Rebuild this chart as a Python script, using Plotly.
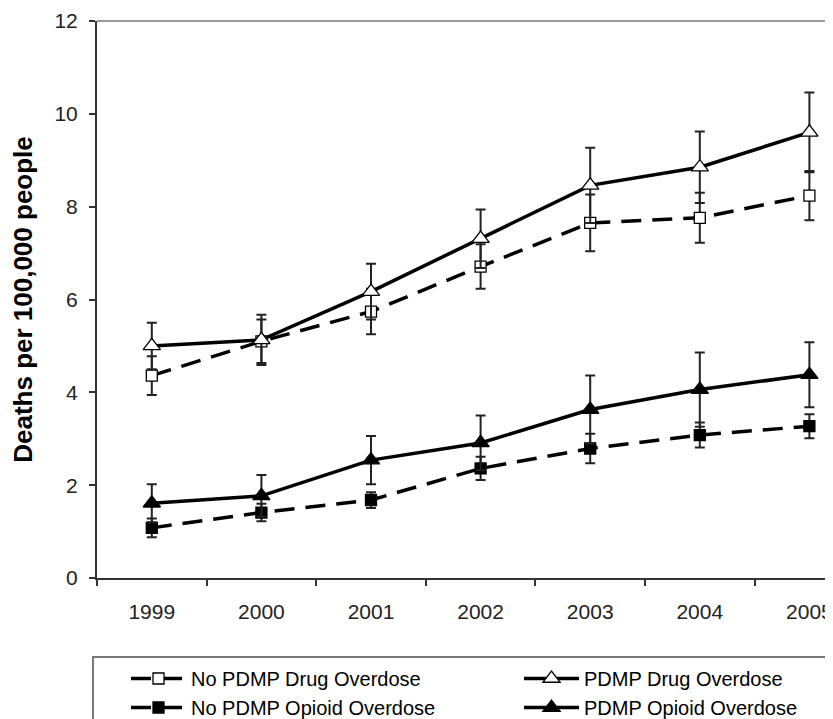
import plotly.graph_objects as go

years = ["1999", "2000", "2001", "2002", "2003", "2004", "2005"]

no_pdmp_drug = [4.36, 5.10, 5.74, 6.71, 7.65, 7.76, 8.24]
no_pdmp_drug_err = [0.42, 0.47, 0.49, 0.48, 0.61, 0.54, 0.53]

pdmp_drug = [5.00, 5.13, 6.17, 7.31, 8.46, 8.85, 9.60]
pdmp_drug_err = [0.50, 0.54, 0.60, 0.63, 0.81, 0.77, 0.86]

no_pdmp_opioid = [1.08, 1.41, 1.68, 2.36, 2.79, 3.08, 3.27]
no_pdmp_opioid_err = [0.20, 0.19, 0.17, 0.25, 0.32, 0.27, 0.26]

pdmp_opioid = [1.61, 1.77, 2.54, 2.91, 3.63, 4.06, 4.38]
pdmp_opioid_err = [0.41, 0.45, 0.52, 0.59, 0.73, 0.80, 0.70]

series = [
    ("No PDMP Drug Overdose", no_pdmp_drug, no_pdmp_drug_err, "20px,11px", "square", "white", 11, "legend"),
    ("PDMP Drug Overdose", pdmp_drug, pdmp_drug_err, "solid", "triangle-up", "white", 15, "legend2"),
    ("No PDMP Opioid Overdose", no_pdmp_opioid, no_pdmp_opioid_err, "20px,11px", "square", "black", 11, "legend"),
    ("PDMP Opioid Overdose", pdmp_opioid, pdmp_opioid_err, "solid", "triangle-up", "black", 15, "legend2"),
]

fig = go.Figure()
for name, vals, errs, dash, sym, fill, size, leg in series:
    fig.add_trace(go.Scatter(
        x=years, y=vals, name=name, mode="lines+markers", legend=leg,
        line=dict(color="black", width=3.5, dash=dash),
        marker=dict(symbol=sym, size=size, color=fill, line=dict(color="black", width=1.3)),
        error_y=dict(type="data", array=errs, visible=True, color="#222222", thickness=2, width=5),
        cliponaxis=False,
    ))

# page body adds an 8px offset; figure sized to fill the remaining window
W, H = 825, 711
L, R, T, B = 89, 0, 13, 141
pw, ph = W - L - R, H - T - B

def px_x(p):
    return (p - L) / pw

def px_y(p):
    return (H - B - p) / ph

leg_common = dict(
    orientation="v", yanchor="top", xanchor="left", itemwidth=55,
    font=dict(size=20, color="black"), bgcolor="rgba(0,0,0,0)",
    traceorder="normal", tracegroupgap=0,
)

fig.update_layout(
    width=W, height=H,
    margin=dict(l=L, r=R, t=T, b=B, autoexpand=False),
    paper_bgcolor="white", plot_bgcolor="white",
    font=dict(family="Liberation Sans, Arial, sans-serif", color="#222222"),
    showlegend=True,
    legend=dict(x=px_x(118), y=px_y(651), **leg_common),
    legend2=dict(x=px_x(511), y=px_y(651), **leg_common),
    shapes=[
        dict(type="rect", xref="paper", yref="paper",
             x0=px_x(85), x1=px_x(823), y0=px_y(740), y1=px_y(649),
             line=dict(color="#777777", width=2), fillcolor="rgba(0,0,0,0)", layer="above"),
        dict(type="line", xref="paper", yref="paper",
             x0=0, x1=1, y0=1, y1=1, line=dict(color="#999999", width=2)),
    ],
)

fig.update_xaxes(
    type="category", range=[-0.5, -0.5 + pw / 109.6],
    showline=True, linecolor="#333333", linewidth=2,
    ticks="outside", tickson="boundaries", ticklen=6, tickcolor="#333333", tickwidth=1.5,
    tickfont=dict(size=21, color="#222222"), ticklabelstandoff=14,
    showgrid=False, zeroline=False, automargin=False,
)
fig.update_yaxes(
    range=[0, 12], dtick=2, tick0=0,
    showline=True, linecolor="#333333", linewidth=2,
    ticks="outside", ticklen=6, tickcolor="#333333", tickwidth=1.5,
    tickfont=dict(size=21, color="#222222"), ticklabelstandoff=7,
    showgrid=False, zeroline=False, automargin=False,
    title=dict(text="<b>Deaths per 100,000 people</b>", font=dict(size=26, color="black"), standoff=14),
)

fig.write_html("out.html")
